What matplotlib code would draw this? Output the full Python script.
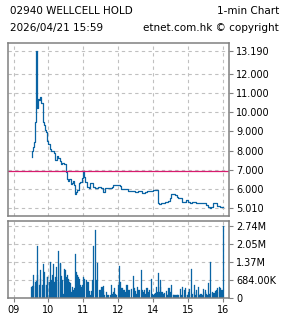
import matplotlib
matplotlib.use("Agg")
import matplotlib.pyplot as plt
from matplotlib.ticker import FixedLocator

# 1-min price (HH:MM, HKD)
price_times = [
    "09:31", "09:32", "09:34", "09:35", "09:37", "09:38", "09:39", "09:40", "09:41", "09:42",
    "09:44", "09:46", "09:48", "09:50", "09:52", "09:54", "09:56", "09:58", "10:00", "10:03",
    "10:05", "10:08", "10:10", "10:12", "10:14", "10:17", "10:19", "10:21", "10:24", "10:27",
    "10:30", "10:31", "10:32", "10:34", "10:36", "10:38", "10:40", "10:42", "10:44", "10:46",
    "10:47", "10:49", "10:51", "10:53", "10:55", "10:57", "10:59", "11:01", "11:03", "11:06",
    "11:09", "11:11", "11:14", "11:17", "11:20", "11:25", "11:31", "11:34", "11:37", "11:42",
    "11:46", "11:49", "11:51", "11:56", "12:00", "13:03", "13:05", "13:10", "13:14", "13:17",
    "13:23", "13:29", "13:33", "13:37", "13:40", "13:46", "13:49", "13:54", "14:00", "14:06",
    "14:08", "14:09", "14:14", "14:20", "14:26", "14:29", "14:31", "14:37", "14:40", "14:43",
    "14:46", "14:49", "14:54", "14:57", "15:00", "15:03", "15:06", "15:11", "15:14", "15:20",
    "15:23", "15:29", "15:31", "15:34", "15:37", "15:40", "15:43", "15:46", "15:49", "15:52",
    "15:54", "15:57", "16:00",
]
prices = [
    7.65, 8.00, 8.20, 8.45, 9.50, 11.80, 13.19, 10.90, 10.20, 10.70,
    10.60, 10.80, 10.45, 9.50, 9.35, 9.05, 8.95, 8.47, 8.35, 8.10,
    8.00, 8.00, 7.85, 7.50, 7.70, 7.60, 7.45, 7.30, 7.35, 7.30,
    7.20, 6.90, 6.50, 6.42, 6.50, 6.25, 6.30, 6.40, 6.20, 5.75,
    5.85, 5.95, 5.95, 6.30, 6.35, 6.55, 6.95, 6.60, 6.35, 6.13,
    6.05, 6.30, 6.33, 6.13, 6.05, 6.08, 6.05, 5.87, 6.05, 6.03,
    6.05, 6.13, 6.20, 6.22, 6.20, 6.18, 6.00, 6.02, 6.00, 5.92,
    5.90, 5.87, 5.90, 5.90, 5.80, 5.82, 5.90, 5.88, 5.95, 5.95,
    5.25, 5.20, 5.30, 5.33, 5.36, 5.54, 5.73, 5.70, 5.61, 5.55,
    5.55, 5.35, 5.35, 5.45, 5.35, 5.28, 5.35, 5.33, 5.30, 5.30,
    5.25, 5.26, 5.18, 5.07, 5.01, 5.07, 5.28, 5.25, 5.13, 5.10,
    5.08, 5.07, 5.05,
]
prev_close = 6.95

# volume (millions of shares)
vol_times = [
    "09:31", "09:33", "09:34", "09:35", "09:37", "09:39", "09:40", "09:41", "09:42", "09:44",
    "09:46", "09:47", "09:49", "09:51", "09:53", "09:54", "09:56", "09:58", "09:59", "10:01",
    "10:03", "10:05", "10:07", "10:09", "10:11", "10:13", "10:14", "10:17", "10:18", "10:20",
    "10:21", "10:22", "10:24", "10:26", "10:27", "10:29", "10:31", "10:33", "10:34", "10:36",
    "10:38", "10:39", "10:41", "10:43", "10:45", "10:46", "10:48", "10:50", "10:51", "10:53",
    "10:55", "10:57", "10:58", "11:00", "11:02", "11:05", "11:07", "11:09", "11:11", "11:13",
    "11:14", "11:16", "11:18", "11:20", "11:22", "11:23", "11:25", "11:27", "11:29", "11:30",
    "11:32", "11:34", "11:35", "11:37", "11:39", "11:41", "11:43", "11:46", "11:48", "11:50",
    "11:51", "11:53", "11:55", "11:57", "12:00", "13:02", "13:03", "13:05", "13:07", "13:09",
    "13:10", "13:12", "13:14", "13:16", "13:18", "13:20", "13:22", "13:23", "13:26", "13:27",
    "13:29", "13:31", "13:33", "13:35", "13:37", "13:39", "13:41", "13:43", "13:45", "13:46",
    "13:49", "13:50", "13:52", "13:54", "13:57", "13:59", "14:01", "14:02", "14:04", "14:06",
    "14:08", "14:09", "14:11", "14:12", "14:13", "14:15", "14:17", "14:18", "14:20", "14:22",
    "14:24", "14:25", "14:27", "14:29", "14:30", "14:32", "14:34", "14:35", "14:37", "14:39",
    "14:41", "14:42", "14:44", "14:46", "14:48", "14:49", "14:51", "14:53", "14:54", "14:56",
    "14:58", "14:59", "15:01", "15:03", "15:05", "15:06", "15:08", "15:10", "15:11", "15:13",
    "15:15", "15:17", "15:18", "15:20", "15:22", "15:23", "15:25", "15:27", "15:29", "15:30",
    "15:32", "15:34", "15:35", "15:37", "15:39", "15:41", "15:42", "15:44", "15:46", "15:47",
    "15:49", "15:51", "15:53", "15:54", "15:56", "15:58", "16:00",
]
volumes_m = [
    0.42, 0.45, 0.46, 0.86, 0.60, 0.55, 0.62, 0.86, 1.97, 0.48,
    1.05, 0.73, 0.48, 1.30, 0.99, 0.50, 0.48, 0.80, 0.80, 0.61,
    1.37, 0.67, 0.86, 1.30, 0.61, 0.80, 1.18, 0.61, 1.78, 1.33,
    1.30, 0.82, 0.67, 0.16, 1.10, 1.05, 0.80, 0.86, 0.73, 0.61,
    0.55, 0.23, 0.42, 0.30, 0.36, 1.65, 0.99, 0.86, 0.80, 0.73,
    0.48, 0.42, 0.48, 0.80, 0.73, 0.67, 0.61, 0.61, 0.27, 0.10,
    0.25, 0.67, 1.97, 2.57, 0.67, 0.30, 1.33, 0.30, 0.16, 0.30,
    0.42, 0.45, 0.27, 0.10, 0.23, 0.10, 0.10, 0.10, 0.48, 0.16,
    0.23, 0.36, 0.16, 0.10, 0.48, 1.20, 0.61, 0.36, 0.36, 0.30,
    0.30, 0.23, 0.48, 0.48, 0.30, 0.30, 0.32, 0.04, 0.82, 0.36,
    0.27, 0.16, 0.42, 0.30, 0.30, 1.05, 0.30, 0.23, 0.30, 0.16,
    0.36, 0.36, 0.23, 0.30, 0.70, 0.14, 0.10, 0.16, 0.19, 0.42,
    0.23, 0.93, 0.23, 0.42, 0.67, 0.23, 0.16, 0.14, 0.19, 0.27,
    0.10, 0.10, 0.36, 0.10, 0.23, 0.48, 0.10, 0.10, 0.10, 0.10,
    0.10, 0.10, 0.10, 0.32, 0.10, 0.06, 0.42, 0.30, 0.10, 0.36,
    0.10, 0.10, 0.23, 0.32, 1.08, 0.10, 0.14, 0.48, 0.23, 0.10,
    0.30, 0.42, 0.14, 0.10, 0.14, 0.10, 0.10, 0.32, 0.30, 0.23,
    0.14, 0.10, 0.55, 0.14, 1.37, 0.19, 0.23, 0.19, 0.19, 0.27,
    0.30, 0.36, 0.42, 0.23, 0.36, 0.30, 2.736,
]

hour_ticks = ["09:00", "10:00", "11:00", "12:00", "14:00", "15:00", "16:00"]
hour_labels = ["09", "10", "11", "12", "14", "15", "16"]
price_ticks = [5.01, 6, 7, 8, 9, 10, 11, 12, 13.19]
vol_ticks_m = [0, 0.684, 1.368, 2.052, 2.736]
vol_labels = ["0", "684.00K", "1.37M", "2.05M", "2.74M"]


def pos(s):
    # minutes after 09:00 with the lunch break (12:00-13:00) squeezed out
    h, m = s.split(":")
    mins = int(h) * 60 + int(m) - 540
    if mins > 180:
        mins -= 60
    return mins


line_col = "#0a64a4"
grid_col = "#c0c0c0"
frame_col = "#808080"

plt.rcParams["font.family"] = "DejaVu Sans"

fig = plt.figure(figsize=(2.85, 3.18), dpi=100)
ax = fig.add_axes([0.029, 0.3208, 0.7744, 0.5449])
axv = fig.add_axes([0.029, 0.0638, 0.7744, 0.2412])

px = [pos(t) for t in price_times]
ax.plot(px, prices, color=line_col, lw=0.9, drawstyle="steps-post")
ax.axhline(prev_close, color="#d81b6e", lw=0.9)

vx = [pos(t) for t in vol_times]
axv.bar(vx, [v * 1e6 for v in volumes_m], width=1.8, color=line_col,
        edgecolor=line_col, linewidth=0.2)

xt = [pos(t) for t in hour_ticks]
for a in (ax, axv):
    a.set_xlim(-9, 370)
    a.xaxis.set_major_locator(FixedLocator(xt))
    a.grid(True, color=grid_col, ls=(0, (3, 3)), lw=0.8)
    a.set_axisbelow(True)
    for s in a.spines.values():
        s.set_color(frame_col)
        s.set_linewidth(1.1)
    a.yaxis.tick_right()
    a.tick_params(axis="y", direction="out", length=3, width=0.8, color=frame_col,
                  labelsize=7, pad=2)

ax.set_ylim(4.60, 13.60)
ax.set_yticks(price_ticks)
ax.set_yticklabels(["%.3f" % p for p in price_ticks])
ax.tick_params(axis="x", length=0, labelbottom=False)

axv.set_ylim(0, 2.92e6)
axv.set_yticks([v * 1e6 for v in vol_ticks_m])
axv.set_yticklabels(vol_labels)
axv.set_xticklabels(hour_labels)
axv.tick_params(axis="x", direction="out", length=3, width=0.8, color=frame_col,
                labelsize=7, pad=2)
# no horizontal grid line on zero
axv.yaxis.get_gridlines()[0].set_visible(False)

fig.text(10 / 285, 1 - 11 / 318, "02940 WELLCELL HOLD", fontsize=7.5, va="center", ha="left")
fig.text(279 / 285, 1 - 11 / 318, "1-min Chart", fontsize=7.5, va="center", ha="right")
fig.text(10 / 285, 1 - 28 / 318, "2026/04/21 15:59", fontsize=7.5, va="center", ha="left")
fig.text(279 / 285, 1 - 28 / 318, "etnet.com.hk \u00a9 copyright", fontsize=7.5, va="center", ha="right")

fig.savefig("out.png", dpi=100)
